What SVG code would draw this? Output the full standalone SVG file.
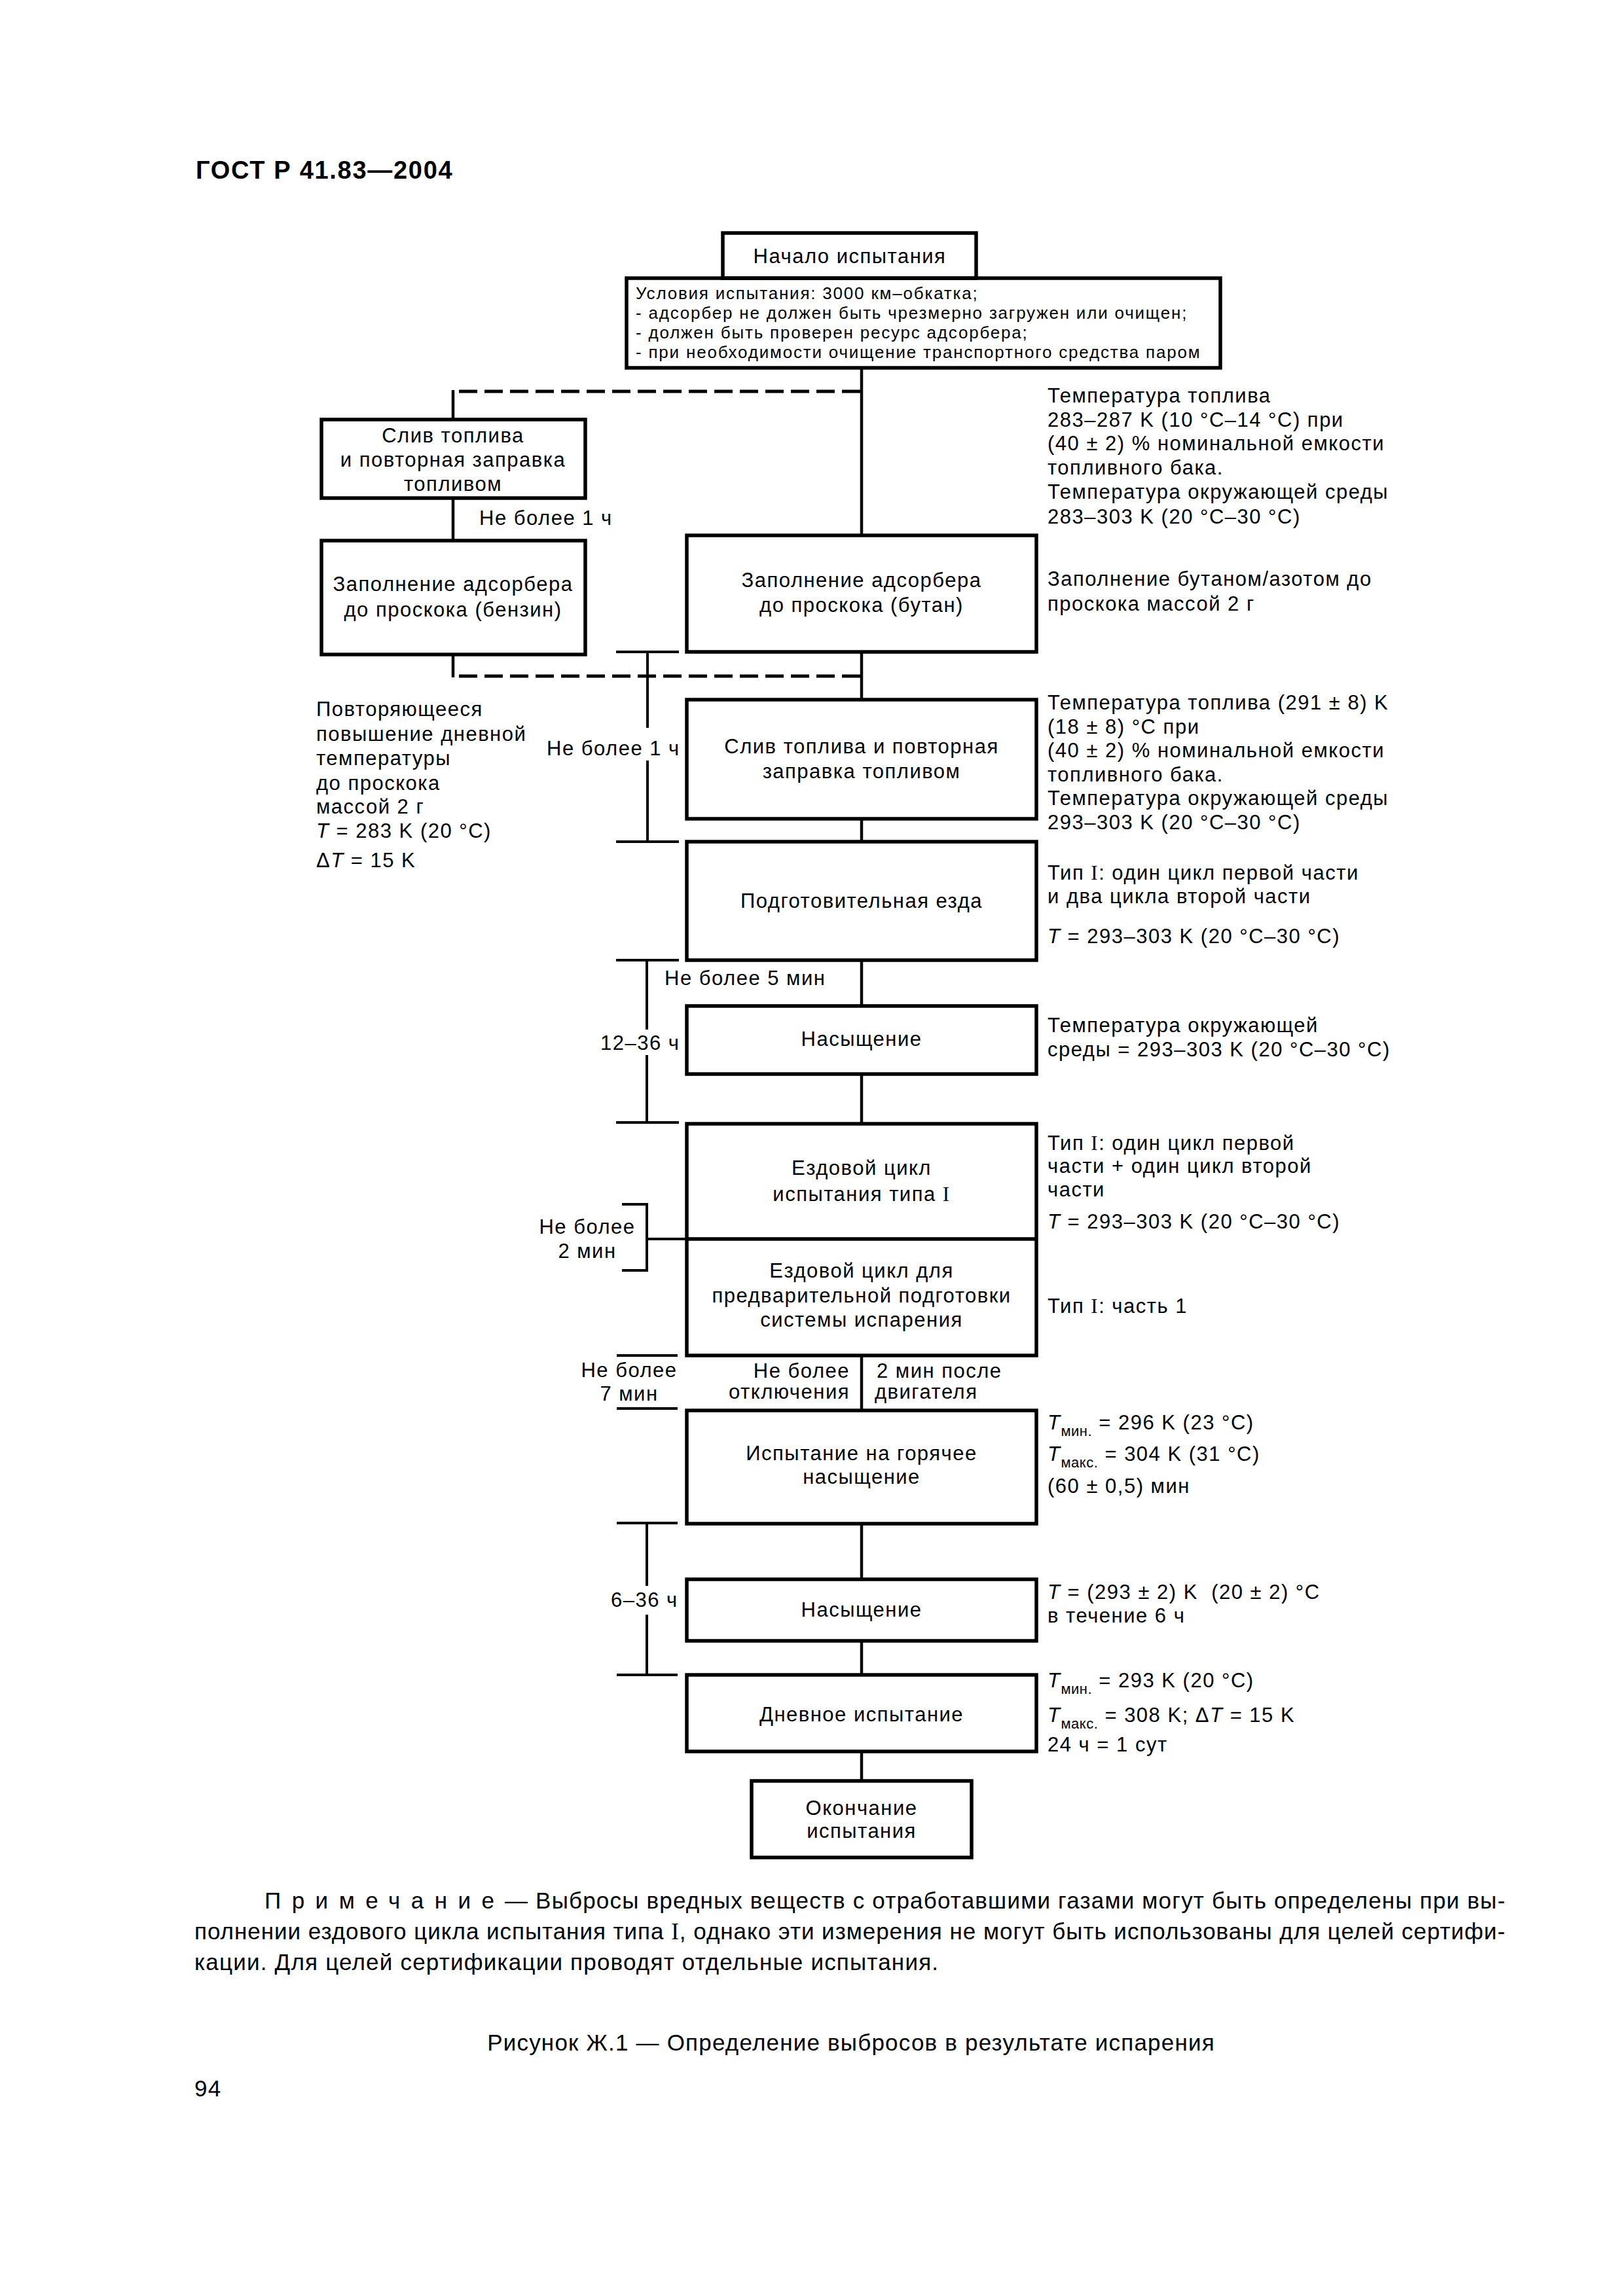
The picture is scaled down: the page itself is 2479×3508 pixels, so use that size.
<svg xmlns="http://www.w3.org/2000/svg" width="2479" height="3508" viewBox="0 0 2479 3508">
<style>
.box{fill:none;stroke:#000;stroke-width:5.5}
.ln{fill:none;stroke:#000;stroke-width:4.5}
.br{fill:none;stroke:#000;stroke-width:4}
.dash{fill:none;stroke:#000;stroke-width:5;stroke-dasharray:28 11}
text{font-family:"Liberation Sans",Arial,sans-serif;font-size:31px;letter-spacing:1.5px;fill:#000}
.c{text-anchor:middle}
.e{text-anchor:end}
.s{font-size:26px;letter-spacing:1.8px}
.n{font-size:35px;letter-spacing:1.2px}
.h{font-size:38px;font-weight:bold;letter-spacing:1.7px}
.sub{font-size:22px;letter-spacing:0.5px}
.rm{font-family:"Liberation Serif","Times New Roman",serif}
.it{font-style:italic}
</style>
<rect width="2479" height="3508" fill="#fff"/>
<text class="h" x="299" y="273">ГОСТ Р 41.83—2004</text>

<g id="connectors">
<line class="ln" x1="1316" y1="562" x2="1316" y2="818"/>
<line class="ln" x1="1316" y1="996" x2="1316" y2="1069"/>
<line class="ln" x1="1316" y1="1251" x2="1316" y2="1286"/>
<line class="ln" x1="1316" y1="1467" x2="1316" y2="1537"/>
<line class="ln" x1="1316" y1="1641" x2="1316" y2="1717"/>
<line class="ln" x1="1316" y1="2071" x2="1316" y2="2155"/>
<line class="ln" x1="1316" y1="2328" x2="1316" y2="2413"/>
<line class="ln" x1="1316" y1="2507" x2="1316" y2="2559"/>
<line class="ln" x1="1316" y1="2676" x2="1316" y2="2721"/>
<path class="dash" d="M1314 598H694"/>
<line class="ln" x1="692" y1="596" x2="692" y2="641"/>
<line class="ln" x1="692" y1="761" x2="692" y2="826"/>
<line class="ln" x1="692" y1="1000" x2="692" y2="1035"/>
<path class="dash" d="M1314 1033H694"/>
<line class="br" x1="941" y1="996" x2="1037" y2="996"/>
<line class="br" x1="989" y1="996" x2="989" y2="1112"/>
<line class="br" x1="989" y1="1162" x2="989" y2="1286"/>
<line class="br" x1="941" y1="1286" x2="1037" y2="1286"/>
<line class="br" x1="941" y1="1467" x2="1037" y2="1467"/>
<line class="br" x1="988" y1="1467" x2="988" y2="1573"/>
<line class="br" x1="988" y1="1612" x2="988" y2="1715"/>
<line class="br" x1="941" y1="1715" x2="1037" y2="1715"/>
<path class="br" d="M950 1840H988V1941H950M988 1893H1049"/>
<line class="br" x1="942" y1="2071" x2="1035" y2="2071"/>
<line class="br" x1="942" y1="2152" x2="1035" y2="2152"/>
<line class="br" x1="942" y1="2327" x2="1035" y2="2327"/>
<line class="br" x1="988" y1="2327" x2="988" y2="2423"/>
<line class="br" x1="988" y1="2467" x2="988" y2="2559"/>
<line class="br" x1="942" y1="2559" x2="1035" y2="2559"/>
</g>

<g id="n-start"><rect class="box" x="1104" y="356" width="387" height="69"/>
<text class="c" x="1298" y="402">Начало испытания</text></g>
<g id="n-conditions"><rect class="box" x="957" y="425" width="907" height="137"/>
<text class="s" x="971" y="457">Условия испытания: 3000 км–обкатка;</text>
<text class="s" x="971" y="487">- адсорбер не должен быть чрезмерно загружен или очищен;</text>
<text class="s" x="971" y="517">- должен быть проверен ресурс адсорбера;</text>
<text class="s" x="971" y="547">- при необходимости очищение транспортного средства паром</text></g>

<g id="n-drain1"><rect class="box" x="491" y="641" width="403" height="120"/>
<text class="c" x="692" y="676">Слив топлива</text>
<text class="c" x="692" y="713">и повторная заправка</text>
<text class="c" x="692" y="750">топливом</text></g>
<text id="l-1h-a" x="732" y="802">Не более 1 ч</text>
<g id="n-petrol"><rect class="box" x="491" y="826" width="403" height="174"/>
<text class="c" x="692" y="903">Заполнение адсорбера</text>
<text class="c" x="692" y="942">до проскока (бензин)</text></g>

<g id="n-butane"><rect class="box" x="1049" y="818" width="534" height="178"/>
<text class="c" x="1316" y="897">Заполнение адсорбера</text>
<text class="c" x="1316" y="935">до проскока (бутан)</text></g>

<g id="n-drain2"><rect class="box" x="1049" y="1069" width="534" height="182"/>
<text class="c" x="1316" y="1151">Слив топлива и повторная</text>
<text class="c" x="1316" y="1189">заправка топливом</text></g>

<g id="n-precond"><rect class="box" x="1049" y="1286" width="534" height="181"/>
<text class="c" x="1316" y="1387">Подготовительная езда</text></g>

<g id="n-soak1"><rect class="box" x="1049" y="1537" width="534" height="104"/>
<text class="c" x="1316" y="1598">Насыщение</text></g>

<g id="n-drive"><rect class="box" x="1049" y="1717" width="534" height="354"/>
<line class="box" x1="1049" y1="1893" x2="1583" y2="1893"/>
<text class="c" x="1316" y="1795">Ездовой цикл</text>
<text class="c" x="1316" y="1835">испытания типа <tspan class="rm">I</tspan></text>
<text class="c" x="1316" y="1952">Ездовой цикл для</text>
<text class="c" x="1316" y="1990">предварительной подготовки</text>
<text class="c" x="1316" y="2027">системы испарения</text></g>

<g id="n-hotsoak"><rect class="box" x="1049" y="2155" width="534" height="173"/>
<text class="c" x="1316" y="2231">Испытание на горячее</text>
<text class="c" x="1316" y="2267">насыщение</text></g>

<g id="n-soak2"><rect class="box" x="1049" y="2413" width="534" height="94"/>
<text class="c" x="1316" y="2470">Насыщение</text></g>

<g id="n-diurnal"><rect class="box" x="1049" y="2559" width="534" height="117"/>
<text class="c" x="1316" y="2630">Дневное испытание</text></g>

<g id="n-end"><rect class="box" x="1148" y="2721" width="336" height="117"/>
<text class="c" x="1316" y="2773">Окончание</text>
<text class="c" x="1316" y="2808">испытания</text></g>

<g id="labels-left">
<text x="483" y="1094">Повторяющееся</text>
<text x="483" y="1132">повышение дневной</text>
<text x="483" y="1169">температуры</text>
<text x="483" y="1207">до проскока</text>
<text x="483" y="1243">массой 2 г</text>
<text x="483" y="1280"><tspan class="it">T</tspan> = 283 K (20 °C)</text>
<text x="483" y="1325">Δ<tspan class="it">T</tspan> = 15 K</text>
<text x="835" y="1154">Не более 1 ч</text>
<text x="1015" y="1505">Не более 5 мин</text>
<text x="917" y="1604">12–36 ч</text>
<text class="c" x="897" y="1885">Не более</text>
<text class="c" x="897" y="1922">2 мин</text>
<text class="c" x="961" y="2104">Не более</text>
<text class="c" x="961" y="2140">7 мин</text>
<text class="e" x="1298" y="2105">Не более</text>
<text class="e" x="1298" y="2137">отключения</text>
<text x="1339" y="2105">2 мин после</text>
<text x="1336" y="2137">двигателя</text>
<text x="933" y="2455">6–36 ч</text>
</g>

<g id="labels-right">
<text x="1600" y="615">Температура топлива</text>
<text x="1600" y="652">283–287 K (10 °C–14 °C) при</text>
<text x="1600" y="688">(40 ± 2) % номинальной емкости</text>
<text x="1600" y="725">топливного бака.</text>
<text x="1600" y="762">Температура окружающей среды</text>
<text x="1600" y="800">283–303 K (20 °C–30 °C)</text>
<text x="1600" y="895">Заполнение бутаном/азотом до</text>
<text x="1600" y="933">проскока массой 2 г</text>
<text x="1600" y="1084">Температура топлива (291 ± 8) K</text>
<text x="1600" y="1121">(18 ± 8) °C при</text>
<text x="1600" y="1157">(40 ± 2) % номинальной емкости</text>
<text x="1600" y="1194">топливного бака.</text>
<text x="1600" y="1230">Температура окружающей среды</text>
<text x="1600" y="1267">293–303 K (20 °C–30 °C)</text>
<text x="1600" y="1344">Тип <tspan class="rm">I</tspan>: один цикл первой части</text>
<text x="1600" y="1380">и два цикла второй части</text>
<text x="1600" y="1441"><tspan class="it">T</tspan> = 293–303 K (20 °C–30 °C)</text>
<text x="1600" y="1577">Температура окружающей</text>
<text x="1600" y="1614">среды = 293–303 K (20 °C–30 °C)</text>
<text x="1600" y="1757">Тип <tspan class="rm">I</tspan>: один цикл первой</text>
<text x="1600" y="1792">части + один цикл второй</text>
<text x="1600" y="1828">части</text>
<text x="1600" y="1877"><tspan class="it">T</tspan> = 293–303 K (20 °C–30 °C)</text>
<text x="1600" y="2006">Тип <tspan class="rm">I</tspan>: часть 1</text>
<text x="1600" y="2184"><tspan class="it">T</tspan><tspan class="sub" dy="10">мин.</tspan><tspan dy="-10"> = 296 K (23 °C)</tspan></text>
<text x="1600" y="2232"><tspan class="it">T</tspan><tspan class="sub" dy="10">макс.</tspan><tspan dy="-10"> = 304 K (31 °C)</tspan></text>
<text x="1600" y="2281">(60 ± 0,5) мин</text>
<text x="1600" y="2443"><tspan class="it">T</tspan> = (293 ± 2) K&#160; (20 ± 2) °C</text>
<text x="1600" y="2479">в течение 6 ч</text>
<text x="1600" y="2578"><tspan class="it">T</tspan><tspan class="sub" dy="10">мин.</tspan><tspan dy="-10"> = 293 K (20 °C)</tspan></text>
<text x="1600" y="2631"><tspan class="it">T</tspan><tspan class="sub" dy="10">макс.</tspan><tspan dy="-10"> = 308 K; Δ</tspan><tspan class="it">T</tspan> = 15 K</text>
<text x="1600" y="2676">24 ч = 1 сут</text>
</g>

<g id="note">
<text class="n" x="404" y="2916" style="letter-spacing:16.5px">Примечание</text>
<text class="n" x="771" y="2916" textLength="1529" lengthAdjust="spacing">— Выбросы вредных веществ с отработавшими газами могут быть определены при вы-</text>
<text class="n" x="297" y="2963" textLength="2003" lengthAdjust="spacing">полнении ездового цикла испытания типа <tspan class="rm">I</tspan>, однако эти измерения не могут быть использованы для целей сертифи-</text>
<text class="n" x="297" y="3010">кации. Для целей сертификации проводят отдельные испытания.</text>
<text class="n c" x="1300" y="3133">Рисунок Ж.1 — Определение выбросов в результате испарения</text>
<text class="n" x="297" y="3203">94</text>
</g>
</svg>
